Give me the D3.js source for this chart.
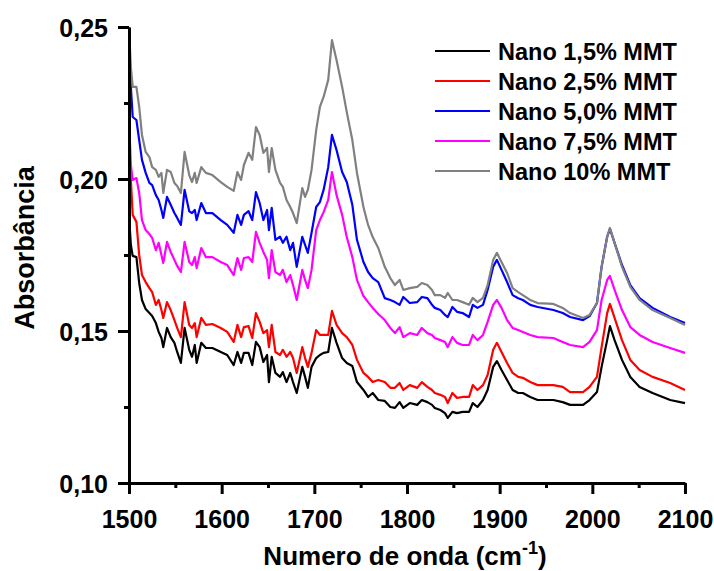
<!DOCTYPE html>
<html>
<head>
<meta charset="utf-8">
<script src="https://cdn.jsdelivr.net/npm/d3@7"></script>
<style>
  html, body { margin: 0; padding: 0; background: #fff; }
  svg text { font-family: "Liberation Sans", Arial, sans-serif; font-weight: bold; fill: #000; }
</style>
</head>
<body>
<svg id="chart" width="714" height="571"></svg>
<script>
// Wavenumbers (cm-1) shared by all spectra
const wavenumbers = [1500,1502,1504,1508,1511,1514,1518,1522,1525,1529,1532,1535,1537,1541,1545,1549,1552,1556,1560,1565,1568,1571,1573,1578,1583,1590,1599,1606,1613,1617,1621,1624,1629,1633,1637,1641,1645,1649,1651,1654,1658,1663,1666,1670,1674,1677,1681,1687,1690,1693,1697,1702,1706,1710,1715,1719,1724,1730,1735,1741,1746,1753,1758,1763,1769,1776,1782,1787,1792,1796,1803,1811,1816,1822,1827,1830,1836,1841,1844,1849,1854,1860,1867,1871,1876,1882,1887,1893,1897,1902,1908,1914,1920,1925,1933,1941,1958,1968,1976,1990,1997,2005,2010,2016,2019,2024,2032,2041,2051,2065,2084,2100];

// Absorbance of each sample
const nano15 = [0.1882,0.1783,0.1747,0.1743,0.1658,0.1602,0.1572,0.1559,0.1549,0.1526,0.1497,0.1477,0.1447,0.1510,0.1480,0.1461,0.1431,0.1395,0.1510,0.1438,0.1415,0.1454,0.1395,0.1461,0.1444,0.1444,0.1431,0.1421,0.1388,0.1431,0.1395,0.1428,0.1428,0.1388,0.1464,0.1447,0.1398,0.1421,0.1332,0.1415,0.1362,0.1349,0.1365,0.1332,0.1362,0.1332,0.1296,0.1382,0.1349,0.1313,0.1382,0.1411,0.1421,0.1428,0.1431,0.1510,0.1461,0.1411,0.1395,0.1385,0.1332,0.1306,0.1283,0.1296,0.1273,0.1270,0.1250,0.1247,0.1266,0.1247,0.1263,0.1257,0.1273,0.1266,0.1257,0.1247,0.1240,0.1230,0.1214,0.1234,0.1230,0.1234,0.1234,0.1263,0.1250,0.1273,0.1306,0.1382,0.1401,0.1372,0.1339,0.1306,0.1296,0.1296,0.1283,0.1273,0.1273,0.1266,0.1257,0.1257,0.1273,0.1299,0.1382,0.1470,0.1516,0.1470,0.1405,0.1349,0.1316,0.1296,0.1273,0.1263];

const nano25 = [0.2128,0.1997,0.1882,0.1859,0.1750,0.1684,0.1661,0.1641,0.1628,0.1586,0.1602,0.1569,0.1543,0.1595,0.1569,0.1536,0.1510,0.1480,0.1595,0.1520,0.1510,0.1526,0.1480,0.1543,0.1520,0.1523,0.1510,0.1497,0.1464,0.1520,0.1480,0.1513,0.1516,0.1477,0.1559,0.1530,0.1493,0.1503,0.1447,0.1520,0.1431,0.1421,0.1438,0.1415,0.1431,0.1411,0.1362,0.1447,0.1411,0.1382,0.1428,0.1503,0.1487,0.1487,0.1487,0.1566,0.1520,0.1493,0.1480,0.1454,0.1405,0.1362,0.1349,0.1332,0.1339,0.1332,0.1313,0.1313,0.1329,0.1306,0.1322,0.1313,0.1332,0.1316,0.1306,0.1296,0.1290,0.1283,0.1263,0.1296,0.1280,0.1283,0.1283,0.1322,0.1306,0.1322,0.1355,0.1438,0.1461,0.1431,0.1395,0.1362,0.1349,0.1346,0.1332,0.1322,0.1322,0.1316,0.1299,0.1299,0.1316,0.1349,0.1447,0.1559,0.1589,0.1543,0.1470,0.1405,0.1372,0.1349,0.1329,0.1306];

const nano50 = [0.2467,0.2303,0.2204,0.2194,0.2128,0.2063,0.2020,0.1987,0.1980,0.1947,0.1931,0.1898,0.1872,0.1941,0.1915,0.1888,0.1872,0.1849,0.1964,0.1894,0.1888,0.1898,0.1865,0.1921,0.1888,0.1888,0.1865,0.1849,0.1823,0.1882,0.1849,0.1882,0.1894,0.1865,0.1957,0.1921,0.1865,0.1898,0.1832,0.1905,0.1800,0.1810,0.1790,0.1810,0.1766,0.1790,0.1711,0.1810,0.1783,0.1757,0.1823,0.1908,0.1924,0.1964,0.2039,0.2145,0.2095,0.2023,0.1990,0.1915,0.1800,0.1727,0.1694,0.1674,0.1661,0.1608,0.1602,0.1595,0.1586,0.1612,0.1592,0.1595,0.1612,0.1608,0.1586,0.1576,0.1569,0.1553,0.1546,0.1579,0.1563,0.1559,0.1546,0.1586,0.1576,0.1586,0.1635,0.1711,0.1734,0.1701,0.1661,0.1618,0.1608,0.1602,0.1586,0.1579,0.1569,0.1559,0.1546,0.1536,0.1549,0.1592,0.1711,0.1810,0.1836,0.1790,0.1717,0.1651,0.1608,0.1576,0.1546,0.1526];

const nano75 = [0.2204,0.2046,0.1997,0.2003,0.1954,0.1865,0.1832,0.1819,0.1806,0.1766,0.1790,0.1750,0.1724,0.1793,0.1760,0.1734,0.1714,0.1694,0.1793,0.1727,0.1717,0.1743,0.1707,0.1773,0.1743,0.1743,0.1727,0.1717,0.1684,0.1740,0.1701,0.1740,0.1743,0.1727,0.1826,0.1790,0.1760,0.1734,0.1674,0.1766,0.1694,0.1684,0.1701,0.1661,0.1684,0.1651,0.1602,0.1701,0.1668,0.1641,0.1701,0.1832,0.1865,0.1891,0.1931,0.2023,0.1947,0.1882,0.1809,0.1743,0.1668,0.1615,0.1595,0.1576,0.1556,0.1536,0.1510,0.1493,0.1513,0.1480,0.1493,0.1487,0.1510,0.1493,0.1487,0.1477,0.1470,0.1464,0.1447,0.1480,0.1461,0.1454,0.1454,0.1487,0.1470,0.1487,0.1530,0.1586,0.1602,0.1576,0.1536,0.1510,0.1503,0.1497,0.1487,0.1480,0.1477,0.1464,0.1454,0.1447,0.1464,0.1503,0.1602,0.1668,0.1681,0.1635,0.1569,0.1513,0.1487,0.1464,0.1444,0.1428];

const nano10 = [0.2500,0.2368,0.2303,0.2303,0.2237,0.2145,0.2089,0.2072,0.2039,0.2030,0.2007,0.2020,0.1954,0.2030,0.2023,0.1987,0.1977,0.1954,0.2089,0.2013,0.1990,0.2020,0.1987,0.2039,0.2020,0.2013,0.1990,0.1974,0.1961,0.2023,0.1997,0.2046,0.2086,0.2063,0.2171,0.2145,0.2086,0.2102,0.2023,0.2102,0.2030,0.1987,0.1974,0.1931,0.1908,0.1888,0.1855,0.1970,0.1941,0.1964,0.2030,0.2161,0.2237,0.2270,0.2326,0.2457,0.2391,0.2303,0.2220,0.2128,0.2020,0.1908,0.1849,0.1809,0.1773,0.1711,0.1674,0.1651,0.1668,0.1635,0.1641,0.1645,0.1658,0.1651,0.1635,0.1618,0.1618,0.1609,0.1625,0.1602,0.1602,0.1595,0.1586,0.1609,0.1595,0.1609,0.1651,0.1734,0.1757,0.1727,0.1691,0.1641,0.1628,0.1618,0.1602,0.1592,0.1589,0.1576,0.1559,0.1543,0.1553,0.1592,0.1711,0.1809,0.1839,0.1790,0.1711,0.1645,0.1602,0.1569,0.1543,0.1520];

const seriesNames = ["Nano 1,5% MMT", "Nano 2,5% MMT", "Nano 5,0% MMT", "Nano 7,5% MMT", "Nano 10% MMT"];
const seriesColors = ["#000000", "#ff0000", "#0000ff", "#ff00ff", "#808080"];
const seriesValues = [nano15, nano25, nano50, nano75, nano10];

const xMajorTicks = [1500, 1600, 1700, 1800, 1900, 2000, 2100];
const xMinorTicks = [1550, 1650, 1750, 1850, 1950, 2050];
const yMajorTicks = [0.10, 0.15, 0.20, 0.25];
const yMinorTicks = [0.125, 0.175, 0.225];

const svg = d3.select("#chart");
const plotLeft = 129, plotRight = 685, plotTop = 27, plotBottom = 483;

const x = d3.scaleLinear().domain([1500, 2100]).range([plotLeft, plotRight]);
const y = d3.scaleLinear().domain([0.10, 0.25]).range([plotBottom, plotTop]);

svg.append("defs").append("clipPath").attr("id", "plotClip")
  .append("rect").attr("x", plotLeft).attr("y", plotTop - 1)
  .attr("width", plotRight - plotLeft + 1).attr("height", plotBottom - plotTop + 1);

// Spectra
const line = d3.line().x(d => x(d[0])).y(d => y(d[1]));
const plot = svg.append("g").attr("clip-path", "url(#plotClip)");
seriesValues.forEach((vals, i) => {
  plot.append("path")
    .datum(wavenumbers.map((w, k) => [w, vals[k]]))
    .attr("fill", "none")
    .attr("stroke", seriesColors[i])
    .attr("stroke-width", 2.2)
    .attr("stroke-linejoin", "round")
    .attr("d", line);
});

// Axes
const fmt = d => d.toFixed(2).replace(".", ",");
function styleAxis(g) {
  g.select(".domain").attr("stroke", "#000").attr("stroke-width", 3);
  g.selectAll(".tick line").attr("stroke", "#000").attr("stroke-width", 3);
}

const yAxis = svg.append("g").attr("transform", `translate(${plotLeft},0)`)
  .call(d3.axisLeft(y).tickValues(yMajorTicks).tickFormat(fmt).tickSize(11).tickSizeOuter(0).tickPadding(10))
  .call(styleAxis);
yAxis.selectAll("text").style("font-size", "25px").attr("dy", "0.36em");

svg.append("g").attr("transform", `translate(${plotLeft},0)`)
  .call(d3.axisLeft(y).tickValues(yMinorTicks).tickFormat("").tickSize(5).tickSizeOuter(0))
  .call(styleAxis).select(".domain").remove();

const xAxis = svg.append("g").attr("transform", `translate(0,${plotBottom})`)
  .call(d3.axisBottom(x).tickValues(xMajorTicks).tickFormat(d3.format("d")).tickSize(11).tickSizeOuter(0).tickPadding(16))
  .call(styleAxis);
xAxis.selectAll("text").style("font-size", "25px");

svg.append("g").attr("transform", `translate(0,${plotBottom})`)
  .call(d3.axisBottom(x).tickValues(xMinorTicks).tickFormat("").tickSize(5).tickSizeOuter(0))
  .call(styleAxis).select(".domain").remove();

// Axis titles
const xt = svg.append("text")
  .attr("x", 405).attr("y", 565)
  .attr("text-anchor", "middle")
  .style("font-size", "26px");
xt.append("tspan").text("Numero de onda (cm");
xt.append("tspan").attr("dy", -11).style("font-size", "18px").text("-1");
xt.append("tspan").attr("dy", 11).text(")");

svg.append("text")
  .attr("transform", "translate(34,248) rotate(-90)")
  .attr("text-anchor", "middle")
  .style("font-size", "27px")
  .text("Absorbância");

// Legend
const legend = svg.append("g");
seriesNames.forEach((name, i) => {
  const cy = 51 + i * 30;
  legend.append("line")
    .attr("x1", 435).attr("x2", 490).attr("y1", cy).attr("y2", cy)
    .attr("stroke", seriesColors[i]).attr("stroke-width", 2.2);
  legend.append("text")
    .attr("x", 498).attr("y", cy + 8.5)
    .style("font-size", "23.5px")
    .text(name);
});
</script>
</body>
</html>
